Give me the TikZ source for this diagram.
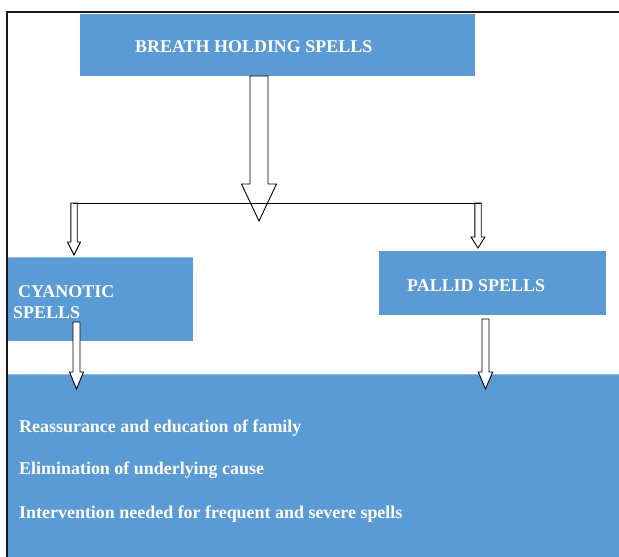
\documentclass[tikz,border=0pt]{standalone}
\usepackage{fontspec}
\setmainfont{Liberation Serif}
\definecolor{boxblue}{HTML}{5B9BD5}
\definecolor{edgeblue}{HTML}{8DB9E4}
\newcommand\blockarrow[6]{% cx, ytop, yhead, ytip, shaft half, head half
  \draw[barrow] ({#1-#5},#2) -- ({#1-#5},#3) -- ({#1-#6},#3) -- (#1,#4)
    -- ({#1+#6},#3) -- ({#1+#5},#3) -- ({#1+#5},#2) -- cycle;}
\begin{document}
\begin{tikzpicture}[x=1pt,y=-1pt,
  box/.style={fill=boxblue, draw=none, inner sep=0pt, anchor=north west},
  lbl/.style={text=white, font=\bfseries\fontsize{17.95}{22}\selectfont, anchor=base west, inner sep=0pt},
  barrow/.style={draw=black, fill=white, line width=0.9pt, line join=miter}]
\useasboundingbox (0,0) rectangle (619,557);
% boxes
\node[box, minimum width=395pt, minimum height=62pt] (top) at (80,14) {};
\node[box, minimum width=186pt, minimum height=84pt] (cyan) at (7,257) {};
\node[box, minimum width=227pt, minimum height=64pt] (pallid) at (379,251) {};
\node[box, minimum width=612pt, minimum height=183pt] (bottom) at (7,374) {};
\draw[edgeblue, line width=0.8pt] (bottom.north west) -- (bottom.north east);
\draw[edgeblue, line width=0.8pt] (cyan.north west) -- (cyan.north east);
% labels
\node[lbl] (ttop) at (135,52) {BREATH HOLDING SPELLS};
\node[lbl] (tcy1) at (18,297) {CYANOTIC};
\node[lbl] (tcy2) at (13,318) {SPELLS};
\node[lbl] (tpal) at (407,291) {PALLID SPELLS};
\node[lbl] (t1) at (19,432) {Reassurance and education of family};
\node[lbl] (t2) at (19,474) {Elimination of underlying cause};
\node[lbl] (t3) at (19,518) {Intervention needed for frequent and severe spells};
% arrows
\blockarrow{259}{76}{184}{221}{9}{17.5}
\coordinate (jl) at (73,203);
\coordinate (jr) at (481,203);
\blockarrow{74}{203}{242}{255}{3.2}{6.5}
\blockarrow{478}{203}{237}{248}{3.2}{7}
\draw[line width=1pt] (jl) -- (jr);
\blockarrow{76.5}{322}{372}{389}{3.5}{7}
\blockarrow{485.5}{319}{372}{389}{3.5}{7.2}
% frame
\draw[line width=1.8pt, black!90] (7,557) -- (7,12) -- (619,12);
\end{tikzpicture}
\end{document}
